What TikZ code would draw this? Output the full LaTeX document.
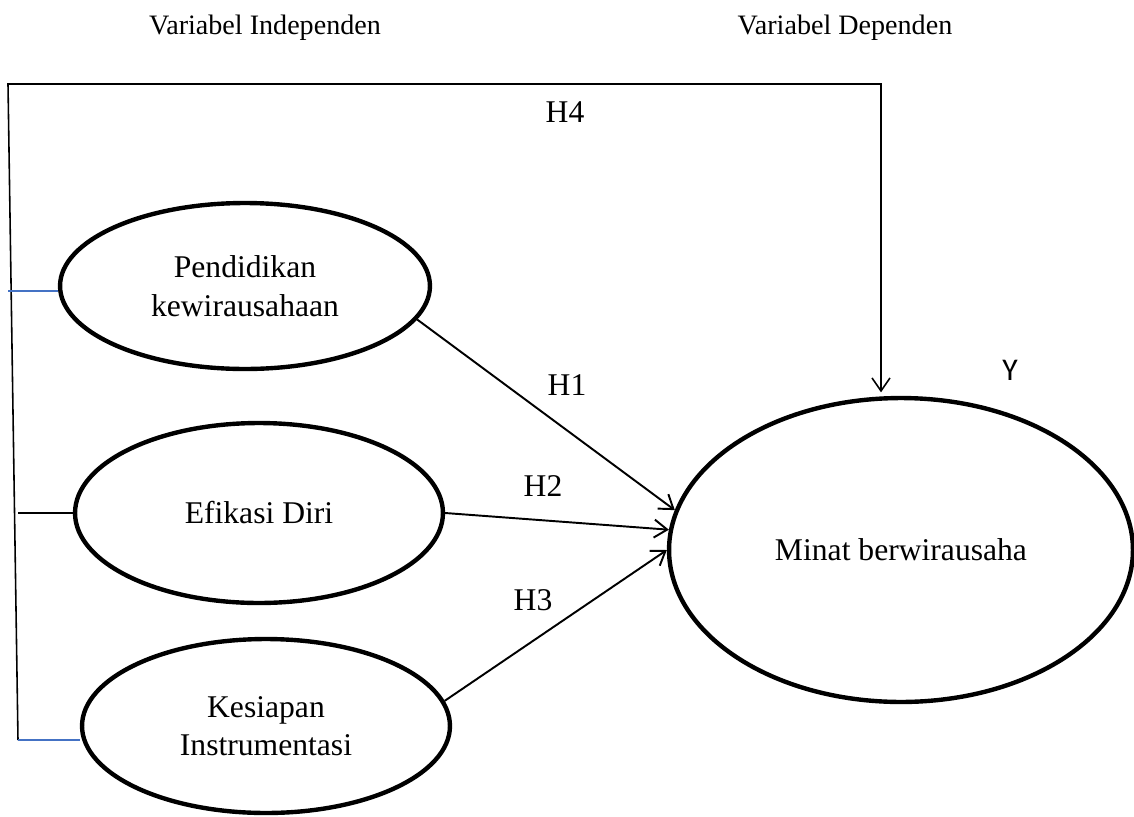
\documentclass[tikz,border=0pt]{standalone}
\usepackage{fontspec}
\setmainfont{Liberation Serif}
\newfontfamily\hurufsans{Carlito}
\usepackage{xcolor}
\usetikzlibrary{arrows.meta, positioning, shapes.geometric}
\definecolor{biruword}{RGB}{68,114,196}
\tikzset{
  variabel/.style={ellipse, draw=black, line width=2.5pt, align=center,
    inner sep=0pt, font=\fontsize{18}{22}\selectfont},
  panah/.style={-{Straight Barb[length=2.6mm, width=3.6mm]}, line width=1.1pt},
  kerangka/.style={line width=0.9pt},
  garisbiru/.style={line width=0.9pt, biruword},
  teks/.style={font=\fontsize{18}{22}\selectfont},
  judul/.style={font=\fontsize{16}{19}\selectfont}
}

\begin{document}
\begin{tikzpicture}[x=0.02cm, y=-0.02cm]
  \useasboundingbox (0,0) rectangle (1134,816);
  \node[judul] (judulIndependen) at (265,28) {Variabel Independen};
  \node[judul] (judulDependen) at (845,28) {Variabel Dependen};

  \node[variabel, minimum width=7.4cm, minimum height=3.32cm] (pendidikan) at (245,286) {Pendidikan\\kewirausahaan};
  \node[variabel, minimum width=7.36cm, minimum height=3.6cm] (efikasi) at (259,513) {Efikasi Diri};
  \node[variabel, minimum width=7.36cm, minimum height=3.48cm] (kesiapan) at (266,726) {Kesiapan\\Instrumentasi};
  \node[variabel, minimum width=9.28cm, minimum height=6.08cm] (minat) at (901,550) {Minat berwirausaha};

  % garis kiri dan H4
  \coordinate (sudutKiriAtas) at (8,84);
  \coordinate (sudutKiriBawah) at (18,740);
  \coordinate (sudutKananAtas) at (881,84);
  \coordinate (cabangPendidikan) at (8,291);
  \coordinate (cabangEfikasi) at (18,513);
  \draw[panah, line width=0.9pt, shorten >=2pt] (sudutKiriBawah) -- (sudutKiriAtas) -- (sudutKananAtas) -- (sudutKananAtas |- minat.north);
  \draw[garisbiru] (cabangPendidikan) -- (cabangPendidikan -| pendidikan.west);
  \draw[kerangka] (cabangEfikasi) -- (efikasi.west);
  \draw[garisbiru] (sudutKiriBawah) -- (sudutKiriBawah -| kesiapan.west);

  % H1 - H3
  \draw[panah] (pendidikan.-11) -- (minat.170);
  \draw[panah] (efikasi.0) -- (minat.175);
  \draw[panah] (kesiapan.8) -- (minat.180);

  \node[teks] (h1) at (567,385) {H1};
  \node[teks] (h2) at (543,486) {H2};
  \node[teks] (h3) at (533,600) {H3};
  \node[teks] (h4) at (565,112) {H4};
  \node[font=\hurufsans\fontsize{18}{22}\selectfont] (labelY) at (1010,370) {Y};
\end{tikzpicture}
\end{document}
